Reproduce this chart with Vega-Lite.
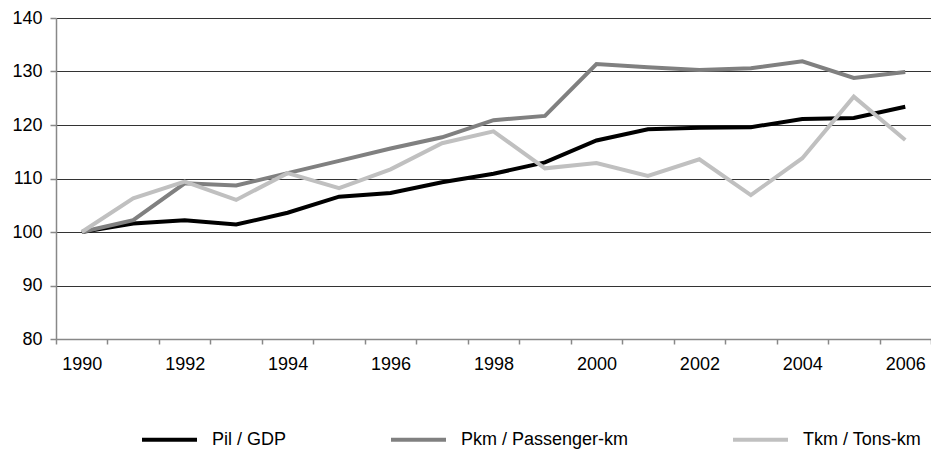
{
  "$schema": "https://vega.github.io/schema/vega-lite/v6.json",
  "autosize": "none",
  "width": 875,
  "height": 321,
  "padding": {"left": 56, "top": 18, "right": 0, "bottom": 111},
  "background": "white",
  "config": {
    "font": "Liberation Sans",
    "view": {"stroke": null},
    "axis": {"labelFont": "Liberation Sans", "labelFontSize": 18, "labelColor": "#000000"}
  },
  "data": {
    "values": [
      {"year": 1990, "series": "Pil / GDP", "value": 100},
      {"year": 1991, "series": "Pil / GDP", "value": 101.6},
      {"year": 1992, "series": "Pil / GDP", "value": 102.2},
      {"year": 1993, "series": "Pil / GDP", "value": 101.4},
      {"year": 1994, "series": "Pil / GDP", "value": 103.6},
      {"year": 1995, "series": "Pil / GDP", "value": 106.6},
      {"year": 1996, "series": "Pil / GDP", "value": 107.3},
      {"year": 1997, "series": "Pil / GDP", "value": 109.3},
      {"year": 1998, "series": "Pil / GDP", "value": 110.9},
      {"year": 1999, "series": "Pil / GDP", "value": 113.0},
      {"year": 2000, "series": "Pil / GDP", "value": 117.1},
      {"year": 2001, "series": "Pil / GDP", "value": 119.2},
      {"year": 2002, "series": "Pil / GDP", "value": 119.5},
      {"year": 2003, "series": "Pil / GDP", "value": 119.6},
      {"year": 2004, "series": "Pil / GDP", "value": 121.1},
      {"year": 2005, "series": "Pil / GDP", "value": 121.3},
      {"year": 2006, "series": "Pil / GDP", "value": 123.4},
      {"year": 1990, "series": "Pkm / Passenger-km", "value": 100},
      {"year": 1991, "series": "Pkm / Passenger-km", "value": 102.2},
      {"year": 1992, "series": "Pkm / Passenger-km", "value": 109.1},
      {"year": 1993, "series": "Pkm / Passenger-km", "value": 108.7},
      {"year": 1994, "series": "Pkm / Passenger-km", "value": 111.0},
      {"year": 1995, "series": "Pkm / Passenger-km", "value": 113.3},
      {"year": 1996, "series": "Pkm / Passenger-km", "value": 115.6},
      {"year": 1997, "series": "Pkm / Passenger-km", "value": 117.7},
      {"year": 1998, "series": "Pkm / Passenger-km", "value": 120.9},
      {"year": 1999, "series": "Pkm / Passenger-km", "value": 121.7},
      {"year": 2000, "series": "Pkm / Passenger-km", "value": 131.4},
      {"year": 2001, "series": "Pkm / Passenger-km", "value": 130.8},
      {"year": 2002, "series": "Pkm / Passenger-km", "value": 130.3},
      {"year": 2003, "series": "Pkm / Passenger-km", "value": 130.6},
      {"year": 2004, "series": "Pkm / Passenger-km", "value": 131.9},
      {"year": 2005, "series": "Pkm / Passenger-km", "value": 128.8},
      {"year": 2006, "series": "Pkm / Passenger-km", "value": 129.9},
      {"year": 1990, "series": "Tkm / Tons-km", "value": 100},
      {"year": 1991, "series": "Tkm / Tons-km", "value": 106.3},
      {"year": 1992, "series": "Tkm / Tons-km", "value": 109.4},
      {"year": 1993, "series": "Tkm / Tons-km", "value": 106.0},
      {"year": 1994, "series": "Tkm / Tons-km", "value": 111.0},
      {"year": 1995, "series": "Tkm / Tons-km", "value": 108.2},
      {"year": 1996, "series": "Tkm / Tons-km", "value": 111.7},
      {"year": 1997, "series": "Tkm / Tons-km", "value": 116.6},
      {"year": 1998, "series": "Tkm / Tons-km", "value": 118.8},
      {"year": 1999, "series": "Tkm / Tons-km", "value": 111.9},
      {"year": 2000, "series": "Tkm / Tons-km", "value": 112.9},
      {"year": 2001, "series": "Tkm / Tons-km", "value": 110.5},
      {"year": 2002, "series": "Tkm / Tons-km", "value": 113.6},
      {"year": 2003, "series": "Tkm / Tons-km", "value": 106.9},
      {"year": 2004, "series": "Tkm / Tons-km", "value": 113.8},
      {"year": 2005, "series": "Tkm / Tons-km", "value": 125.3},
      {"year": 2006, "series": "Tkm / Tons-km", "value": 117.2}
    ]
  },
  "mark": {"type": "line", "strokeWidth": 4, "strokeJoin": "miter"},
  "encoding": {
    "x": {
      "field": "year",
      "type": "ordinal",
      "bandPosition": 0.5,
      "scale": {"type": "band", "paddingInner": 0, "paddingOuter": 0},
      "axis": {
        "title": null,
        "labelAngle": 0,
        "tickBand": "extent",
        "tickSize": 5,
        "tickColor": "#888888",
        "tickWidth": 1.5,
        "domainColor": "#888888",
        "domainWidth": 1.5,
        "labelPadding": 11,
        "labelExpr": "datum.value % 2 == 0 ? datum.label : ''",
        "grid": false
      }
    },
    "y": {
      "field": "value",
      "type": "quantitative",
      "scale": {"domain": [80, 140], "nice": false, "zero": false},
      "axis": {
        "title": null,
        "values": [80, 90, 100, 110, 120, 130, 140],
        "tickSize": 6,
        "tickColor": "#888888",
        "tickWidth": 1.5,
        "domainColor": "#888888",
        "domainWidth": 1.5,
        "labelPadding": 8,
        "grid": true,
        "gridColor": "#333333",
        "gridWidth": 1
      }
    },
    "color": {
      "field": "series",
      "type": "nominal",
      "sort": ["Pil / GDP", "Pkm / Passenger-km", "Tkm / Tons-km"],
      "scale": {
        "domain": ["Pil / GDP", "Pkm / Passenger-km", "Tkm / Tons-km"],
        "range": ["#000000", "#808080", "#c0c0c0"]
      },
      "legend": {
        "title": null,
        "orient": "none",
        "direction": "horizontal",
        "legendX": 84,
        "legendY": 392,
        "symbolType": "stroke",
        "symbolSize": 3025,
        "symbolStrokeWidth": 4,
        "labelFontSize": 18,
        "labelFont": "Liberation Sans",
        "labelColor": "#000000",
        "labelOffset": 13,
        "columnPadding": 96,
        "labelLimit": 300
      }
    }
  }
}
